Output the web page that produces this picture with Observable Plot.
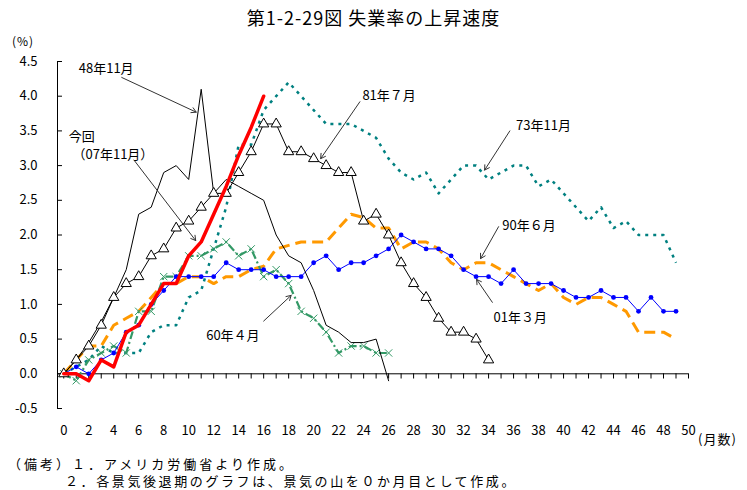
<!DOCTYPE html>
<html>
<head>
<meta charset="utf-8">
<script src="https://cdn.jsdelivr.net/npm/d3@7"></script>
<script src="https://cdn.jsdelivr.net/npm/@observablehq/plot@0.6"></script>
<style>
  html, body { margin: 0; padding: 0; background: #fff; }
  #wrap { position: relative; width: 747px; height: 490px; background: #fff;
          font-family: "Noto Sans CJK JP", "Noto Sans", sans-serif; color: #000; }
  #chart { position: absolute; left: 0; top: 0; }
  .t { position: absolute; white-space: nowrap; line-height: 1; }
</style>
</head>
<body>
<div id="wrap">
  <div id="chart"></div>
  <div class="t" style="left:0;width:747px;top:8px;text-align:center;font-size:18px;letter-spacing:1px;">第1-2-29図 失業率の上昇速度</div>
  <div class="t" style="left:12px;top:35px;font-size:12px;letter-spacing:1px;">(%)</div>
  <div class="t" style="left:698px;top:432px;font-size:13px;letter-spacing:1px;">(月数)</div>
  <div class="t" style="left:8px;top:457px;font-size:13px;letter-spacing:3px;">（備考）１．アメリカ労働省より作成。</div>
  <div class="t" style="left:65px;top:474px;font-size:13px;letter-spacing:2.6px;">２．各景気後退期のグラフは、景気の山を０か月目として作成。</div>
</div>
<script>
// ---- data (percentage-point rise of unemployment rate from the cycle peak) ----
const s48_11 = [0,0.2,0.45,0.75,1.1,1.5,2.3,2.4,2.9,3.0,2.8,4.1,2.6,2.8,2.7,2.6,2.5,2.0,1.7,1.6,1.2,0.7,0.6,0.45,0.45,0.5,-0.1];
const s60_04 = [0,-0.1,0.2,0.3,0.4,0.3,0.9,0.9,1.4,1.4,1.7,1.7,1.8,1.9,1.7,1.8,1.4,1.5,1.3,0.9,0.8,0.6,0.3,0.4,0.4,0.3,0.3];
const s73_11 = [0,0.1,0.2,0.4,0.3,0.3,0.3,0.6,0.7,0.7,1.1,1.2,1.8,2.4,3.3,3.3,3.8,4.0,4.2,4.0,3.8,3.6,3.6,3.6,3.5,3.4,3.1,2.9,2.8,2.9,2.6,2.8,3.0,3.0,2.8,2.9,3.0,3.0,2.7,2.8,2.6,2.4,2.2,2.4,2.1,2.2,2.0,2.0,2.0,1.6];
const s81_07 = [0,0.2,0.4,0.7,1.1,1.3,1.4,1.7,1.8,2.1,2.2,2.4,2.6,2.6,2.9,3.2,3.6,3.6,3.2,3.2,3.1,3.0,2.9,2.9,2.2,2.3,2.0,1.6,1.3,1.1,0.8,0.6,0.6,0.5,0.2];
const s90_06 = [0,0.2,0.4,0.4,0.7,0.8,0.9,1.1,1.3,1.3,1.4,1.4,1.3,1.4,1.4,1.5,1.55,1.8,1.85,1.9,1.9,1.9,2.1,2.3,2.25,2.1,2.1,1.8,1.9,1.9,1.8,1.6,1.5,1.6,1.6,1.5,1.4,1.3,1.2,1.3,1.1,1.0,1.1,1.1,1.0,0.9,0.6,0.6,0.6,0.5];
const s01_03 = [0,0.1,0,0.2,0.3,0.6,0.7,1.0,1.2,1.4,1.4,1.4,1.4,1.6,1.5,1.5,1.5,1.4,1.4,1.4,1.6,1.7,1.5,1.6,1.6,1.7,1.8,2.0,1.9,1.8,1.8,1.7,1.5,1.4,1.4,1.3,1.5,1.3,1.3,1.3,1.2,1.1,1.1,1.2,1.1,1.1,0.9,1.1,0.9,0.9];
const s07_11 = [0,0,-0.1,0.2,0.1,0.6,0.7,1.0,1.3,1.3,1.7,1.9,2.3,2.7,3.15,3.55,4.0];

const yTicks = [-0.5,0,0.5,1,1.5,2,2.5,3,3.5,4,4.5];
const xLabels = [0,2,4,6,8,10,12,14,16,18,20,22,24,26,28,30,32,34,36,38,40,42,44,46,48,50];
const xMinor = d3.range(0, 51);

// annotation labels and arrows (data units: month, pct-pt)
const labelText = ["48年11月","今回","（07年11月）","81年７月","73年11月","90年６月","01年３月","60年４月"];
const labelX    = [1.2, 0.4, 0.7, 23.9, 36.2, 35.1, 34.4, 11.4];
const labelY    = [4.40, 3.42, 3.16, 4.00, 3.57, 2.13, 0.80, 0.54];
const arrowX1 = [4.64, 5.62, 23.7, 35.7, 34.8, 34.3, 16.0];
const arrowY1 = [4.27, 3.08, 3.92, 3.50, 2.12, 1.03, 0.76];
const arrowX2 = [10.6, 10.56, 20.56, 33.68, 33.36, 33.04, 18.2];
const arrowY2 = [3.77, 1.92, 3.10, 2.935, 1.66, 1.36, 1.13];

const toRows = arr => arr.map((v, i) => ({month: i, value: v}));
const labels = labelText.map((t, i) => ({text: t, x: labelX[i], y: labelY[i]}));
const arrows = arrowX1.map((x1, i) => ({x1, y1: arrowY1[i], x2: arrowX2[i], y2: arrowY2[i]}));

const plot = Plot.plot({
  width: 747,
  height: 490,
  marginLeft: 57,
  marginRight: 59,
  marginTop: 61,
  marginBottom: 82,
  style: {fontFamily: "'Noto Sans CJK JP', 'Noto Sans', sans-serif", fontSize: "13px", background: "transparent", color: "#000"},
  x: {domain: [-0.5, 50]},
  y: {domain: [-0.5, 4.5]},
  marks: [
    // axes
    Plot.ruleX([-0.5], {y1: -0.5, y2: 4.5, stroke: "#000"}),
    Plot.ruleY(yTicks, {x1: -0.5, x2: -0.1, stroke: "#000"}),
    Plot.ruleY([0], {x1: -0.5, x2: 50, stroke: "#000"}),
    Plot.ruleX(xMinor, {y1: 0, y2: -0.075, stroke: "#000"}),
    Plot.axisY(yTicks, {tickSize: 0, tickPadding: 20, tickFormat: d => d.toFixed(1), fontSize: 13, label: null}),
    Plot.axisX(xLabels, {tickSize: 0, tickPadding: 17, fontSize: 13, label: null}),
    // series
    Plot.line(toRows(s73_11), {x: "month", y: "value", stroke: "#008080", strokeWidth: 2.5, strokeDasharray: "3,5", strokeLinecap: "butt"}),
    Plot.line(toRows(s90_06), {x: "month", y: "value", stroke: "#FF9900", strokeWidth: 3, strokeDasharray: "11,6", strokeLinecap: "butt"}),
    Plot.line(toRows(s60_04), {x: "month", y: "value", stroke: "#339966", strokeWidth: 2.2, strokeDasharray: "8,3,2,3", strokeLinecap: "butt"}),
    Plot.dot(toRows(s60_04), {x: "month", y: "value", symbol: "times", r: 3.4, stroke: "#339966", strokeWidth: 1}),
    Plot.line(toRows(s01_03), {x: "month", y: "value", stroke: "#0000FF", strokeWidth: 1}),
    Plot.dot(toRows(s01_03), {x: "month", y: "value", r: 2.4, fill: "#0000FF", stroke: "none"}),
    Plot.line(toRows(s48_11), {x: "month", y: "value", stroke: "#000", strokeWidth: 1}),
    Plot.line(toRows(s81_07), {x: "month", y: "value", stroke: "#000", strokeWidth: 1}),
    Plot.dot(toRows(s81_07), {x: "month", y: "value", symbol: "triangle", r: 3.8, fill: "#fff", stroke: "#000", strokeWidth: 1}),
    Plot.line(toRows(s07_11), {x: "month", y: "value", stroke: "#FF0000", strokeWidth: 3.5}),
    // annotations
    Plot.arrow(arrows, {x1: "x1", y1: "y1", x2: "x2", y2: "y2", stroke: "#333", strokeWidth: 1, headLength: 8}),
    Plot.text(labels, {x: "x", y: "y", text: "text", textAnchor: "start", fontSize: 13, fill: "#000", letterSpacing: "1px"})
  ]
});
document.getElementById("chart").appendChild(plot);
</script>
</body>
</html>
